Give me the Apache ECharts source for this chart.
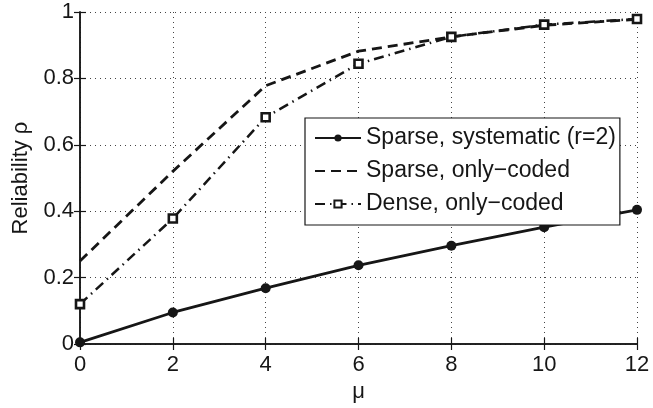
<!DOCTYPE html>
<html>
<head>
<meta charset="utf-8">
<script src="https://cdn.jsdelivr.net/npm/echarts@6/dist/echarts.min.js"></script>
<style>
  html, body { margin: 0; padding: 0; background: #fff; }
  #chart { width: 653px; height: 408px; }
</style>
</head>
<body>
<div id="chart"></div>
<script>
// Reliability versus mu for three coding schemes
const mu = [0, 2, 4, 6, 8, 10, 12];
const sparseSystematic = [0.005, 0.095, 0.168, 0.237, 0.296, 0.352, 0.404];
const sparseOnlyCoded = [0.25, 0.52, 0.778, 0.882, 0.925, 0.96, 0.978];
const denseOnlyCoded = [0.12, 0.378, 0.683, 0.844, 0.925, 0.962, 0.979];

const seriesNames = ['Sparse, systematic (r=2)', 'Sparse, only\u2212coded', 'Dense, only\u2212coded'];

const FONT = '"Liberation Sans", Arial, Helvetica, sans-serif';
const INK = '#161616';

const pairs = (ys) => mu.map((x, i) => [x, ys[i]]);

const dottedGrid = { show: true, lineStyle: { color: '#444', width: 1, type: [1, 4] } };
const boxLine = { show: true, lineStyle: { color: INK, width: 1.5 } };
const inTicks = { show: true, inside: true, length: 6, lineStyle: { color: INK, width: 1.2 } };

const chart = echarts.init(document.getElementById('chart'), null, { renderer: 'canvas' });
chart.setOption({
  backgroundColor: '#fff',
  animation: false,
  textStyle: { fontFamily: FONT },
  grid: { left: 80, right: 16, top: 12, bottom: 58 },
  xAxis: [
    {
      type: 'value', min: 0, max: 12, interval: 2, position: 'bottom',
      name: '\u03bc', nameLocation: 'middle', nameGap: 37,
      nameTextStyle: { fontSize: 22, color: INK, fontFamily: FONT },
      axisLine: boxLine, axisTick: inTicks, splitLine: dottedGrid,
      axisLabel: { fontSize: 22, color: INK, margin: 10, fontFamily: FONT }
    },
    {
      type: 'value', min: 0, max: 12, interval: 2, position: 'top',
      axisLine: boxLine, axisTick: inTicks, splitLine: { show: false },
      axisLabel: { show: false }
    }
  ],
  yAxis: [
    {
      type: 'value', min: 0, max: 1, interval: 0.2, position: 'left',
      name: 'Reliability \u03c1', nameLocation: 'middle', nameGap: 48,
      nameTextStyle: { fontSize: 22, color: INK, fontFamily: FONT },
      axisLine: boxLine, axisTick: inTicks, splitLine: dottedGrid,
      axisLabel: {
        fontSize: 22, color: INK, margin: 6, fontFamily: FONT,
        formatter: (v) => String(Math.round(v * 10) / 10)
      }
    },
    {
      type: 'value', min: 0, max: 1, interval: 0.2, position: 'right',
      axisLine: boxLine, axisTick: inTicks, splitLine: { show: false },
      axisLabel: { show: false }
    }
  ],
  legend: {
    orient: 'vertical',
    left: 305, top: 118,
    padding: [8, 4, 9, 9],
    itemGap: 9,
    itemWidth: 46, itemHeight: 9,
    backgroundColor: '#fff',
    borderColor: INK, borderWidth: 1.2,
    textStyle: { fontSize: 23, lineHeight: 24, color: INK, fontFamily: FONT },
    data: [
      { name: seriesNames[0] },
      { name: seriesNames[1], itemStyle: { opacity: 0 } },
      { name: seriesNames[2] }
    ]
  },
  series: [
    {
      name: seriesNames[0], type: 'line', data: pairs(sparseSystematic),
      symbol: 'circle', symbolSize: 10, showAllSymbol: true,
      lineStyle: { color: INK, width: 2.8, type: 'solid' },
      itemStyle: { color: INK, borderColor: INK, borderWidth: 0 },
      z: 3
    },
    {
      name: seriesNames[1], type: 'line', data: pairs(sparseOnlyCoded),
      symbol: 'none',
      lineStyle: { color: INK, width: 2.8, type: [10, 6] },
      itemStyle: { color: INK },
      z: 2
    },
    {
      name: seriesNames[2], type: 'line', data: pairs(denseOnlyCoded),
      symbol: 'rect', symbolSize: 8, showAllSymbol: true,
      lineStyle: { color: INK, width: 2.5, type: [10, 5, 1.5, 5] },
      itemStyle: { color: '#fff', borderColor: INK, borderWidth: 2.6 },
      z: 4
    }
  ]
});
</script>
</body>
</html>
